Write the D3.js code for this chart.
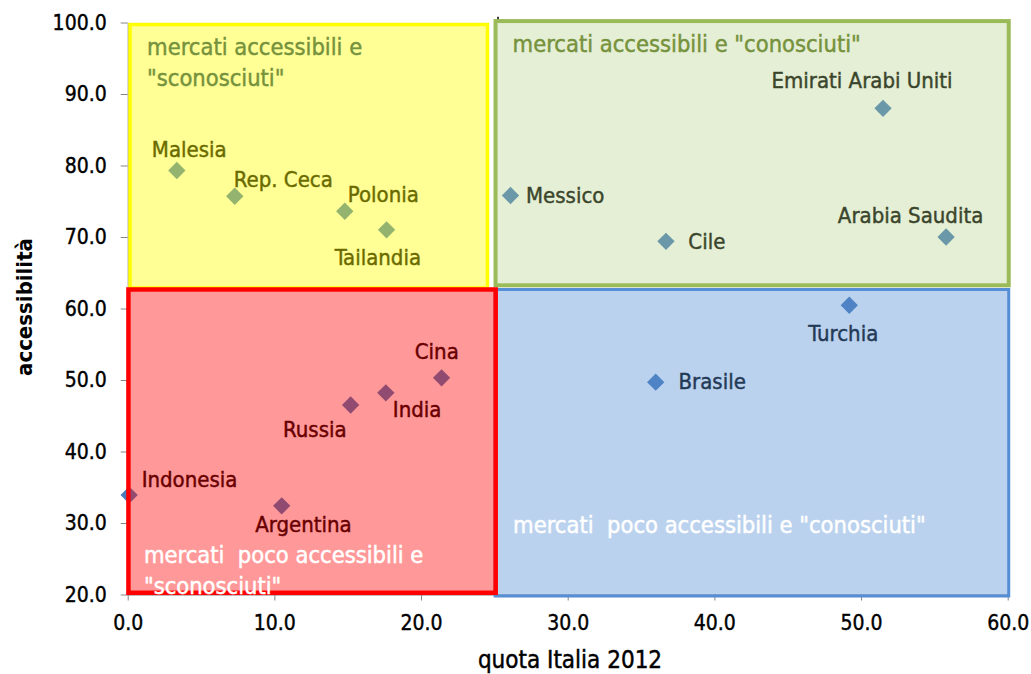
<!DOCTYPE html>
<html>
<head>
<meta charset="utf-8">
<script src="https://cdn.jsdelivr.net/npm/d3@7/dist/d3.min.js"></script>
<style>
  body { margin: 0; background: #fff; }
  text { font-family: "DejaVu Sans Condensed", "DejaVu Sans", sans-serif; }
  .tick text { font-size: 21px; fill: #000; stroke: #000; stroke-width: 0.4px; }
</style>
</head>
<body>
<svg width="1031" height="674"></svg>
<script>
// countries and their values (quota Italia 2012, accessibilità)
var countries = ["Malesia", "Rep. Ceca", "Polonia", "Tailandia", "Messico", "Cile",
  "Emirati Arabi Uniti", "Arabia Saudita", "Turchia", "Brasile", "Cina", "India",
  "Russia", "Indonesia", "Argentina"];
var quota = [3.35, 7.3, 14.8, 17.65, 26.1, 36.7, 51.5, 55.8, 49.2, 36.0, 21.4, 17.6, 15.2, 0.1, 10.5];
var accessibilita = [79.3, 75.7, 73.6, 71.0, 75.8, 69.4, 88.0, 70.0, 60.45, 49.7, 50.3, 48.2, 46.5, 33.9, 32.4];

var xTicks = [0, 10, 20, 30, 40, 50, 60];
var yTicks = [20, 30, 40, 50, 60, 70, 80, 90, 100];

// quadrants, in data units
var quadrantNames = ["yellow", "green", "blue", "red"];
var quadrantX = [[0.16, 24.53], [25.08, 60.07], [25.05, 60.07], [0.05, 25.09]];
var quadrantY = [[62.87, 99.72], [63.24, 100.2], [19.79, 62.66], [20.24, 62.66]];
var quadrantTitles = [
  ["mercati accessibili e", "\"sconosciuti\""],
  ["mercati accessibili e \"conosciuti\""],
  ["mercati  poco accessibili e \"conosciuti\""],
  ["mercati  poco accessibili e", "\"sconosciuti\""]
];

// styles for the quadrants
var quadStyle = {
  yellow: { fill: "#ffff00", op: 0.41, stroke: "#ffff00", sw: 3.5, title: "#76923c", tx: 17, ty: 30.5, from: "top" },
  green:  { fill: "#afcd82", op: 0.33, stroke: "#9bbb59", sw: 4, title: "#76923c", tx: 17, ty: 31, from: "top" },
  blue:   { fill: "#558ed5", op: 0.4, stroke: "#558ed5", sw: 3, title: "#ffffff", tx: 18, ty: -62.7, from: "bottom" },
  red:    { fill: "#ff0000", op: 0.4, stroke: "#ff0000", sw: 4.5, title: "#ffffff", tx: 15.5, ty: -29.5, from: "bottom" }
};

// label placement around each marker: [anchor, dx, dy]
var labelPos = {
  "Malesia": ["start", -25, -14],
  "Rep. Ceca": ["start", -1, -9],
  "Polonia": ["start", 3, -9],
  "Tailandia": ["middle", -8.7, 35],
  "Messico": ["start", 15.5, 7.5],
  "Cile": ["start", 22.4, 7.7],
  "Emirati Arabi Uniti": ["middle", -21, -20],
  "Arabia Saudita": ["middle", -35.5, -14.3],
  "Turchia": ["middle", -6, 35.4],
  "Brasile": ["start", 22.8, 7.2],
  "Cina": ["middle", -4.8, -18.6],
  "India": ["start", 7, 23.8],
  "Russia": ["end", -4, 32.3],
  "Indonesia": ["start", 12.5, -7.8],
  "Argentina": ["middle", 21.7, 26]
};

var svg = d3.select("svg");

var x = d3.scaleLinear().domain([0, 60]).range([127.7, 1007.7]);
var y = d3.scaleLinear().domain([20, 100]).range([594.5, 22.5]);

var fmt = d3.format(".1f");

// axes
svg.append("g")
  .attr("transform", "translate(" + x(0) + ",0)")
  .call(d3.axisLeft(y).tickValues(yTicks).tickFormat(fmt).tickSize(7).tickSizeOuter(0).tickPadding(14));
svg.append("g")
  .attr("transform", "translate(0," + y(20) + ")")
  .call(d3.axisBottom(x).tickValues(xTicks).tickFormat(fmt).tickSize(6).tickSizeOuter(0).tickPadding(15));
svg.selectAll(".domain, .tick line").attr("stroke", "#868686");

// small mark above the divider between the upper quadrants
svg.append("line")
  .attr("x1", x(25.25)).attr("x2", x(25.25))
  .attr("y1", y(100.8)).attr("y2", y(100.2))
  .attr("stroke", "#000")
  .attr("stroke-width", 1.5);

var points = countries.map(function(c, i) {
  return { name: c, q: quota[i], a: accessibilita[i] };
});

// markers (drawn under the transparent quadrant boxes)
svg.append("g").selectAll("path")
  .data(points)
  .enter()
  .append("path")
  .attr("d", d3.symbol().type(d3.symbolSquare).size(150))
  .attr("transform", function(d) {
    return "translate(" + x(d.q) + "," + y(d.a) + ") rotate(45)";
  })
  .attr("fill", "#4a7ebb");

svg.append("g").selectAll("text")
  .data(points)
  .enter()
  .append("text")
  .attr("x", function(d) { return x(d.q) + labelPos[d.name][1]; })
  .attr("y", function(d) { return y(d.a) + labelPos[d.name][2]; })
  .attr("text-anchor", function(d) { return labelPos[d.name][0]; })
  .attr("font-size", 22)
  .attr("fill", "#000")
  .attr("stroke", "#000")
  .attr("stroke-width", 0.45)
  .text(function(d) { return d.name; });

// quadrant boxes
var quads = quadrantNames.map(function(n, i) {
  return { name: n, x0: quadrantX[i][0], x1: quadrantX[i][1], y0: quadrantY[i][0], y1: quadrantY[i][1], title: quadrantTitles[i] };
});

svg.append("g").selectAll("rect")
  .data(quads)
  .enter()
  .append("rect")
  .attr("x", function(d) { return x(d.x0); })
  .attr("y", function(d) { return y(d.y1); })
  .attr("width", function(d) { return x(d.x1) - x(d.x0); })
  .attr("height", function(d) { return y(d.y0) - y(d.y1); })
  .attr("fill", function(d) { return quadStyle[d.name].fill; })
  .attr("fill-opacity", function(d) { return quadStyle[d.name].op; })
  .attr("stroke", function(d) { return quadStyle[d.name].stroke; })
  .attr("stroke-width", function(d) { return quadStyle[d.name].sw; });

// quadrant titles
quads.forEach(function(d) {
  var s = quadStyle[d.name];
  var base = s.from === "top" ? y(d.y1) : y(d.y0);
  var t = svg.append("text")
    .attr("x", x(d.x0) + s.tx)
    .attr("y", base + s.ty)
    .attr("font-size", 23.5)
    .attr("fill", s.title)
    .attr("stroke", s.title)
    .attr("stroke-width", 0.45)
    .style("white-space", "pre");
  d.title.forEach(function(line, i) {
    t.append("tspan")
      .attr("x", x(d.x0) + s.tx)
      .attr("dy", i === 0 ? 0 : 30.5)
      .text(line);
  });
});

// axis titles
svg.append("text")
  .attr("x", 570)
  .attr("y", 668)
  .attr("text-anchor", "middle")
  .attr("font-size", 24)
  .attr("stroke", "#000")
  .attr("stroke-width", 0.45)
  .text("quota Italia 2012");

svg.append("text")
  .attr("transform", "translate(32,307) rotate(-90)")
  .attr("text-anchor", "middle")
  .attr("font-size", 22)
  .attr("font-weight", "bold")
  .text("accessibilità");
</script>
</body>
</html>
